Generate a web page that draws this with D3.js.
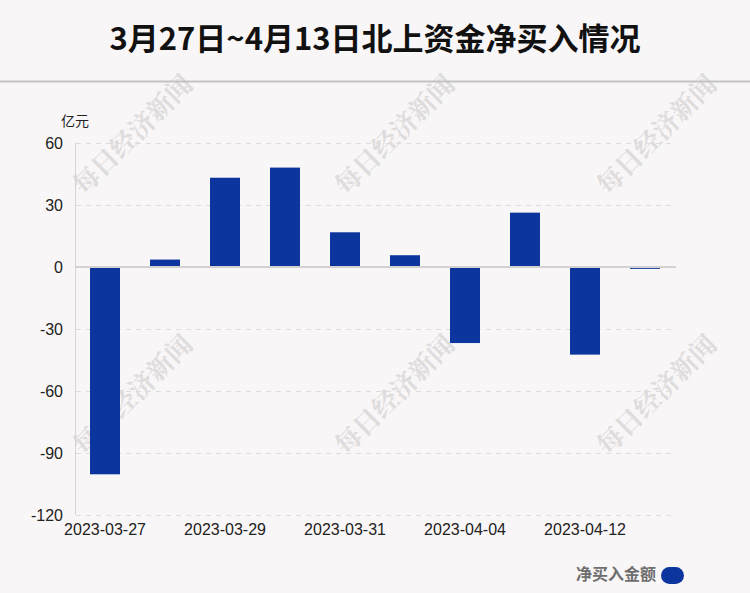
<!DOCTYPE html>
<html><head><meta charset="utf-8">
<script src="https://cdn.jsdelivr.net/npm/d3@7/dist/d3.min.js"></script>
<style>
html,body{margin:0;padding:0;background:#f9f6f7;}
svg{display:block;}
</style></head>
<body>
<script>
const dates = ["2023-03-27","2023-03-28","2023-03-29","2023-03-30","2023-03-31","2023-04-03","2023-04-04","2023-04-06","2023-04-12","2023-04-13"];
const netBuy = [-100.3, 3.6, 43.2, 48.1, 16.8, 5.7, -36.8, 26.3, -42.4, -0.9];
const yTicks = [60, 30, 0, -30, -60, -90, -120];
const titleText = "3月27日~4月13日北上资金净买入情况";
const unitText = "亿元";
const legendText = "净买入金额";
const watermark = "每日经济新闻";

const W = 750, H = 593;
const svg = d3.select("body").append("svg").attr("width", W).attr("height", H);
svg.append("rect").attr("width", W).attr("height", H).attr("fill", "#f9f6f7");

const font = "'Liberation Sans', Arial, sans-serif";

// watermarks
const wmPos = [[131,133],[393,133],[655,133],[131,393],[393,393],[655,393]];
svg.append("g").selectAll("text").data(wmPos).join("text")
  .attr("transform", d => `translate(${d[0]},${d[1]}) rotate(-45)`)
  .attr("text-anchor", "middle").attr("dominant-baseline", "central")
  .attr("font-family", "'Noto Serif CJK SC', 'Noto Sans CJK SC', serif").attr("font-weight", "bold")
  .attr("font-size", 26).attr("fill", "#dedcdd")
  .text(watermark);

// title
svg.append("text").attr("x", 375).attr("y", 50).attr("text-anchor", "middle")
  .attr("font-family", "'Noto Sans CJK SC', sans-serif").attr("font-weight", "bold")
  .attr("font-size", 31).attr("fill", "#111").text(titleText);
svg.append("line").attr("x1", 0).attr("x2", W).attr("y1", 81.5).attr("y2", 81.5)
  .attr("stroke", "#c4c2c3").attr("stroke-width", 2);

const x = d3.scaleBand().domain(dates).range([75, 675]).paddingInner(0.5).paddingOuter(0.25);
const y = d3.scaleLinear().domain([-120, 60]).range([515, 143]);

// grid
const g = svg.append("g");
g.selectAll("line.grid").data(yTicks.filter(t => t !== 0)).join("line")
  .attr("class", "grid")
  .attr("x1", 76).attr("x2", 672).attr("y1", d => Math.round(y(d)) + 0.5).attr("y2", d => Math.round(y(d)) + 0.5)
  .attr("stroke", "#dedcdd").attr("stroke-dasharray", "5,5").attr("stroke-width", 1);

// left axis line
g.append("line").attr("x1", 75.5).attr("x2", 75.5).attr("y1", y(60)).attr("y2", y(-120))
  .attr("stroke", "#d6d4d5").attr("stroke-width", 1);

// y axis labels
const yAxis = d3.axisLeft(y).tickValues(yTicks).tickSize(0).tickPadding(12).tickFormat(d => String(d));
const ya = svg.append("g").attr("transform", "translate(75,0)").call(yAxis)
  .attr("font-family", font).attr("font-size", 16);
ya.select(".domain").remove();
ya.selectAll("text").attr("fill", "#222");

// unit
svg.append("text").attr("x", 61).attr("y", 126).attr("font-family", "'Noto Sans CJK SC', sans-serif")
  .attr("font-size", 14).attr("fill", "#222").text(unitText);

// bars
g.selectAll("rect.bar").data(netBuy).join("rect").attr("class", "bar")
  .attr("x", (d, i) => x(dates[i]))
  .attr("width", x.bandwidth())
  .attr("y", d => y(Math.max(0, d)))
  .attr("height", d => Math.abs(y(d) - y(0)))
  .attr("fill", "#0d359e");

// zero line
g.append("line").attr("x1", 75).attr("x2", 676).attr("y1", y(0)).attr("y2", y(0))
  .attr("stroke", "#d3d1d2").attr("stroke-width", 2);

// x axis labels
const xAxis = d3.axisBottom(x).tickValues(dates.filter((d, i) => i % 2 === 0)).tickSize(0).tickPadding(9);
const xa = svg.append("g").attr("transform", `translate(0,${y(-120)})`).call(xAxis)
  .attr("font-family", font).attr("font-size", 16);
xa.select(".domain").remove();
xa.selectAll("text").attr("fill", "#222");

// legend
svg.append("text").attr("x", 656).attr("y", 580).attr("text-anchor", "end")
  .attr("font-family", "'Noto Sans CJK SC', sans-serif").attr("font-weight", "bold")
  .attr("font-size", 16).attr("fill", "#6e6e6e").text(legendText);
svg.append("rect").attr("x", 661).attr("y", 567).attr("width", 23).attr("height", 17).attr("rx", 8.5)
  .attr("fill", "#0d359e");
</script>
</body></html>
